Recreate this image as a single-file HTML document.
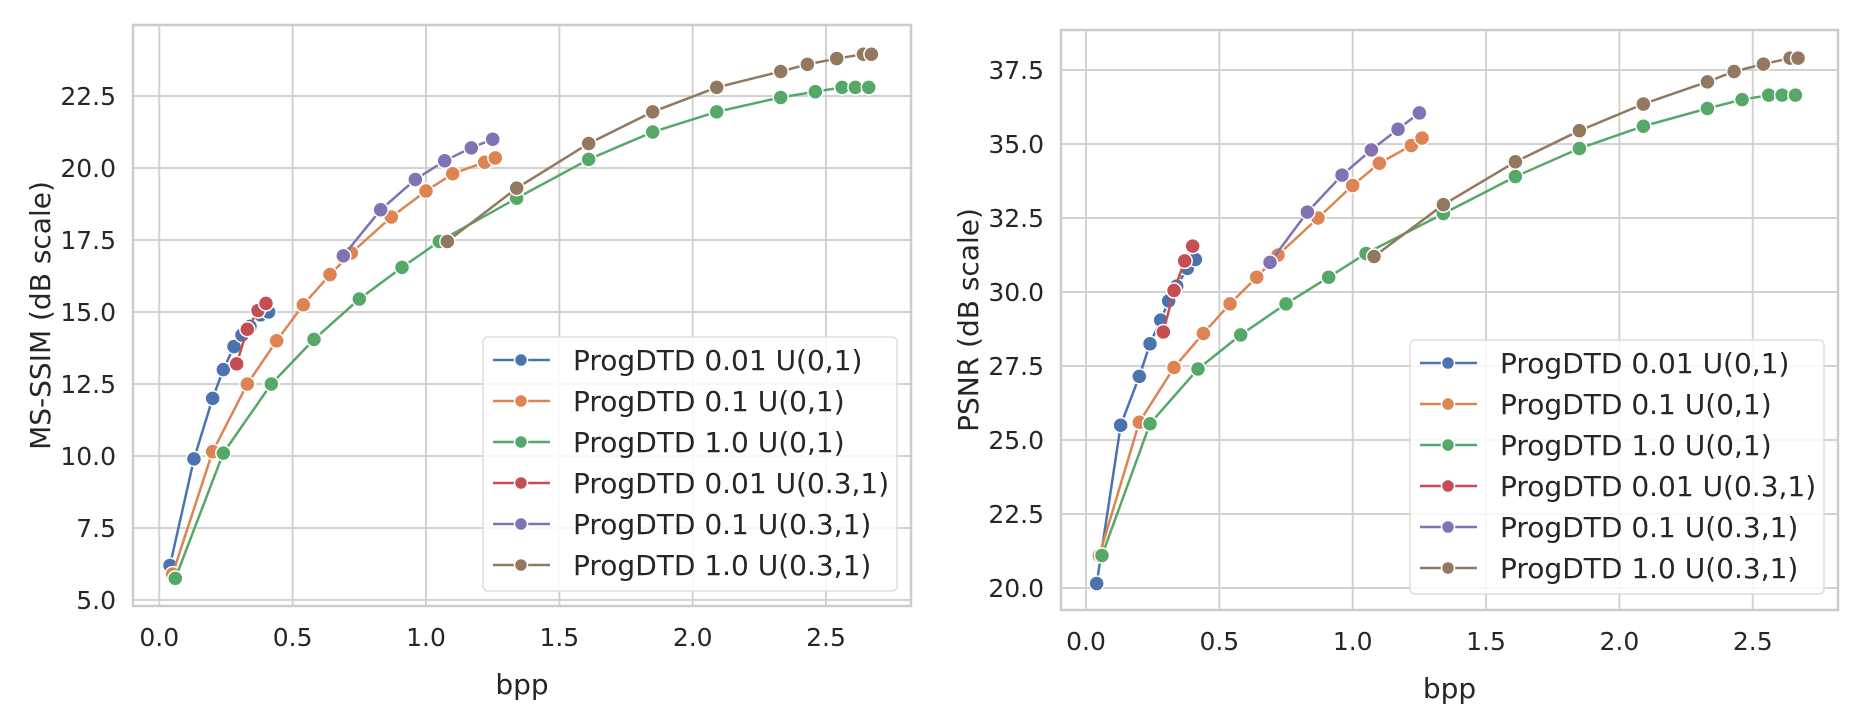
<!DOCTYPE html>
<html><head><meta charset="utf-8"><style>
html,body{margin:0;padding:0;background:#fff;}
svg{display:block;font-family:"DejaVu Sans","Liberation Sans",sans-serif;}
</style></head><body>
<svg id="chart" width="1855" height="714" viewBox="0 0 1855 714" xmlns="http://www.w3.org/2000/svg"></svg>
<script>
const seriesNames = ["ProgDTD 0.01 U(0,1)","ProgDTD 0.1 U(0,1)","ProgDTD 1.0 U(0,1)","ProgDTD 0.01 U(0.3,1)","ProgDTD 0.1 U(0.3,1)","ProgDTD 1.0 U(0.3,1)"];
const seriesColors = ["#4c72b0","#dd8452","#55a868","#c44e52","#8172b3","#937860"];
const xTicks = [0.0,0.5,1.0,1.5,2.0,2.5];
const xTickLabels = ["0.0","0.5","1.0","1.5","2.0","2.5"];
const yTicksL = [5.0,7.5,10.0,12.5,15.0,17.5,20.0,22.5];
const yTickLabelsL = ["5.0","7.5","10.0","12.5","15.0","17.5","20.0","22.5"];
const yTicksR = [20.0,22.5,25.0,27.5,30.0,32.5,35.0,37.5];
const yTickLabelsR = ["20.0","22.5","25.0","27.5","30.0","32.5","35.0","37.5"];

const bppA = [0.04,0.13,0.20,0.24,0.28,0.31,0.34,0.38,0.41];
const bppB = [0.05,0.20,0.33,0.44,0.54,0.64,0.72,0.87,1.0,1.10,1.22,1.26];
const bppC = [0.06,0.24,0.42,0.58,0.75,0.91,1.05,1.34,1.61,1.85,2.09,2.33,2.46,2.56,2.61,2.66];
const bppD = [0.29,0.33,0.37,0.40];
const bppE = [0.69,0.83,0.96,1.07,1.17,1.25];
const bppF = [1.08,1.34,1.61,1.85,2.09,2.33,2.43,2.54,2.64,2.67];

const ssimA = [6.2,9.9,12.0,13.0,13.8,14.2,14.5,14.9,15.0];
const ssimB = [5.9,10.15,12.5,14.0,15.25,16.3,17.05,18.3,19.2,19.8,20.2,20.35];
const ssimC = [5.75,10.1,12.5,14.05,15.45,16.55,17.45,18.95,20.3,21.25,21.95,22.45,22.65,22.8,22.8,22.8];
const ssimD = [13.2,14.4,15.05,15.3];
const ssimE = [16.95,18.55,19.6,20.25,20.7,21.0];
const ssimF = [17.45,19.3,20.85,21.95,22.8,23.35,23.6,23.8,23.95,23.95];

const psnrA = [20.15,25.5,27.15,28.25,29.05,29.7,30.2,30.8,31.1];
const psnrB = [21.1,25.6,27.45,28.6,29.6,30.5,31.25,32.5,33.6,34.35,34.95,35.2];
const psnrC = [21.1,25.55,27.4,28.55,29.6,30.5,31.3,32.65,33.9,34.85,35.6,36.2,36.5,36.65,36.65,36.65];
const psnrD = [28.65,30.05,31.05,31.55];
const psnrE = [31.0,32.7,33.95,34.8,35.5,36.05];
const psnrF = [31.2,32.95,34.4,35.45,36.35,37.1,37.45,37.7,37.9,37.9];

const NS="http://www.w3.org/2000/svg";
const svg=document.getElementById('chart');
function mk(tag,attrs,parent){const e=document.createElementNS(NS,tag);for(const k in attrs)e.setAttribute(k,attrs[k]);(parent||svg).appendChild(e);return e;}

function drawPanel(cfg){
  const g=mk('g',{});
  
  
  const xS=v=>cfg.x0+v*cfg.xu;
  const yS=v=>cfg.yBase-(v-cfg.yBaseVal)/2.5*cfg.ystep;
  xTicks.forEach((t,i)=>{
    const l=mk('line',{x1:xS(t),x2:xS(t),y1:cfg.top,y2:cfg.bottom,stroke:'#d2d2d2','stroke-width':2},g);
    
    
    const tx=mk('text',{x:xS(t),y:cfg.bottom+40,'text-anchor':'middle','font-size':25,fill:'#262626'},g);
    
    
    tx.textContent=xTickLabels[i];
  });
  cfg.yTicks.forEach((t,i)=>{
    const l=mk('line',{x1:cfg.left,x2:cfg.right,y1:yS(t),y2:yS(t),stroke:'#d2d2d2','stroke-width':2},g);
    
    
    const tx=mk('text',{x:cfg.left-17,y:yS(t)+9,'text-anchor':'end','font-size':25,fill:'#262626'},g);
    
    
    tx.textContent=cfg.yLabels[i];
  });
  const fr=mk('rect',{x:cfg.left,y:cfg.top,width:cfg.right-cfg.left,height:cfg.bottom-cfg.top,fill:'none',stroke:'#cccccc','stroke-width':2.5},g);
  
  
  cfg.series.forEach((s,si)=>{
    const sg=mk('g',{},g);
    
    
    const pts=s.x.map((v,i)=>xS(v).toFixed(1)+','+yS(s.y[i]).toFixed(1)).join(' ');
    const pl=mk('polyline',{points:pts,fill:'none',stroke:seriesColors[si],'stroke-width':2.5},sg);
    
    
    s.x.forEach((v,i)=>{
      const c=mk('circle',{cx:xS(v),cy:yS(s.y[i]),r:7.5,fill:seriesColors[si],stroke:'#fff','stroke-width':1.5},sg);
      
      
    });
  });
  const xt=mk('text',{x:(cfg.left+cfg.right)/2,y:cfg.bottom+88,'text-anchor':'middle','font-size':28,fill:'#262626'},g);
  
  
  xt.textContent='bpp';
  const cy=(cfg.top+cfg.bottom)/2;
  const yt=mk('text',{x:cfg.ytx,y:cy,'text-anchor':'middle','font-size':28,fill:'#262626',transform:'rotate(-90 '+cfg.ytx+' '+cy+')'},g);
  
  
  yt.textContent=cfg.ytitle;
  const lg=mk('g',{},g);
  
  
  const lx=cfg.right-428, ly=cfg.legTop;
  mk('rect',{x:lx,y:ly,width:414,height:254,rx:5,fill:'rgba(255,255,255,0.85)',stroke:'#dddddd','stroke-width':1.5},lg);
  seriesNames.forEach((n,i)=>{
    const ry=ly+23+i*41;
    const eg=mk('g',{},lg);
    
    
    mk('line',{x1:lx+10,x2:lx+67,y1:ry,y2:ry,stroke:seriesColors[i],'stroke-width':2.5},eg);
    mk('circle',{cx:lx+38,cy:ry,r:6.5,fill:seriesColors[i],stroke:'#fff','stroke-width':1.5},eg);
    const t=mk('text',{x:lx+90,y:ry+10,'font-size':28,fill:'#262626'},eg);
    t.textContent=n;
  });
}

drawPanel({name:'ms-ssim-panel',left:133,right:911,top:25,bottom:606,x0:159.3,xu:266.7,yBase:600,yBaseVal:5.0,ystep:72,
  yTicks:yTicksL,yLabels:yTickLabelsL,ytitle:'MS-SSIM (dB scale)',ytx:50,legTop:337,
  series:[{x:bppA,y:ssimA},{x:bppB,y:ssimB},{x:bppC,y:ssimC},{x:bppD,y:ssimD},{x:bppE,y:ssimE},{x:bppF,y:ssimF}]});
drawPanel({name:'psnr-panel',left:1061,right:1838,top:30,bottom:610,x0:1086,xu:266.7,yBase:588,yBaseVal:20.0,ystep:74,
  yTicks:yTicksR,yLabels:yTickLabelsR,ytitle:'PSNR (dB scale)',ytx:978,legTop:340,
  series:[{x:bppA,y:psnrA},{x:bppB,y:psnrB},{x:bppC,y:psnrC},{x:bppD,y:psnrD},{x:bppE,y:psnrE},{x:bppF,y:psnrF}]});
</script>
</body></html>
